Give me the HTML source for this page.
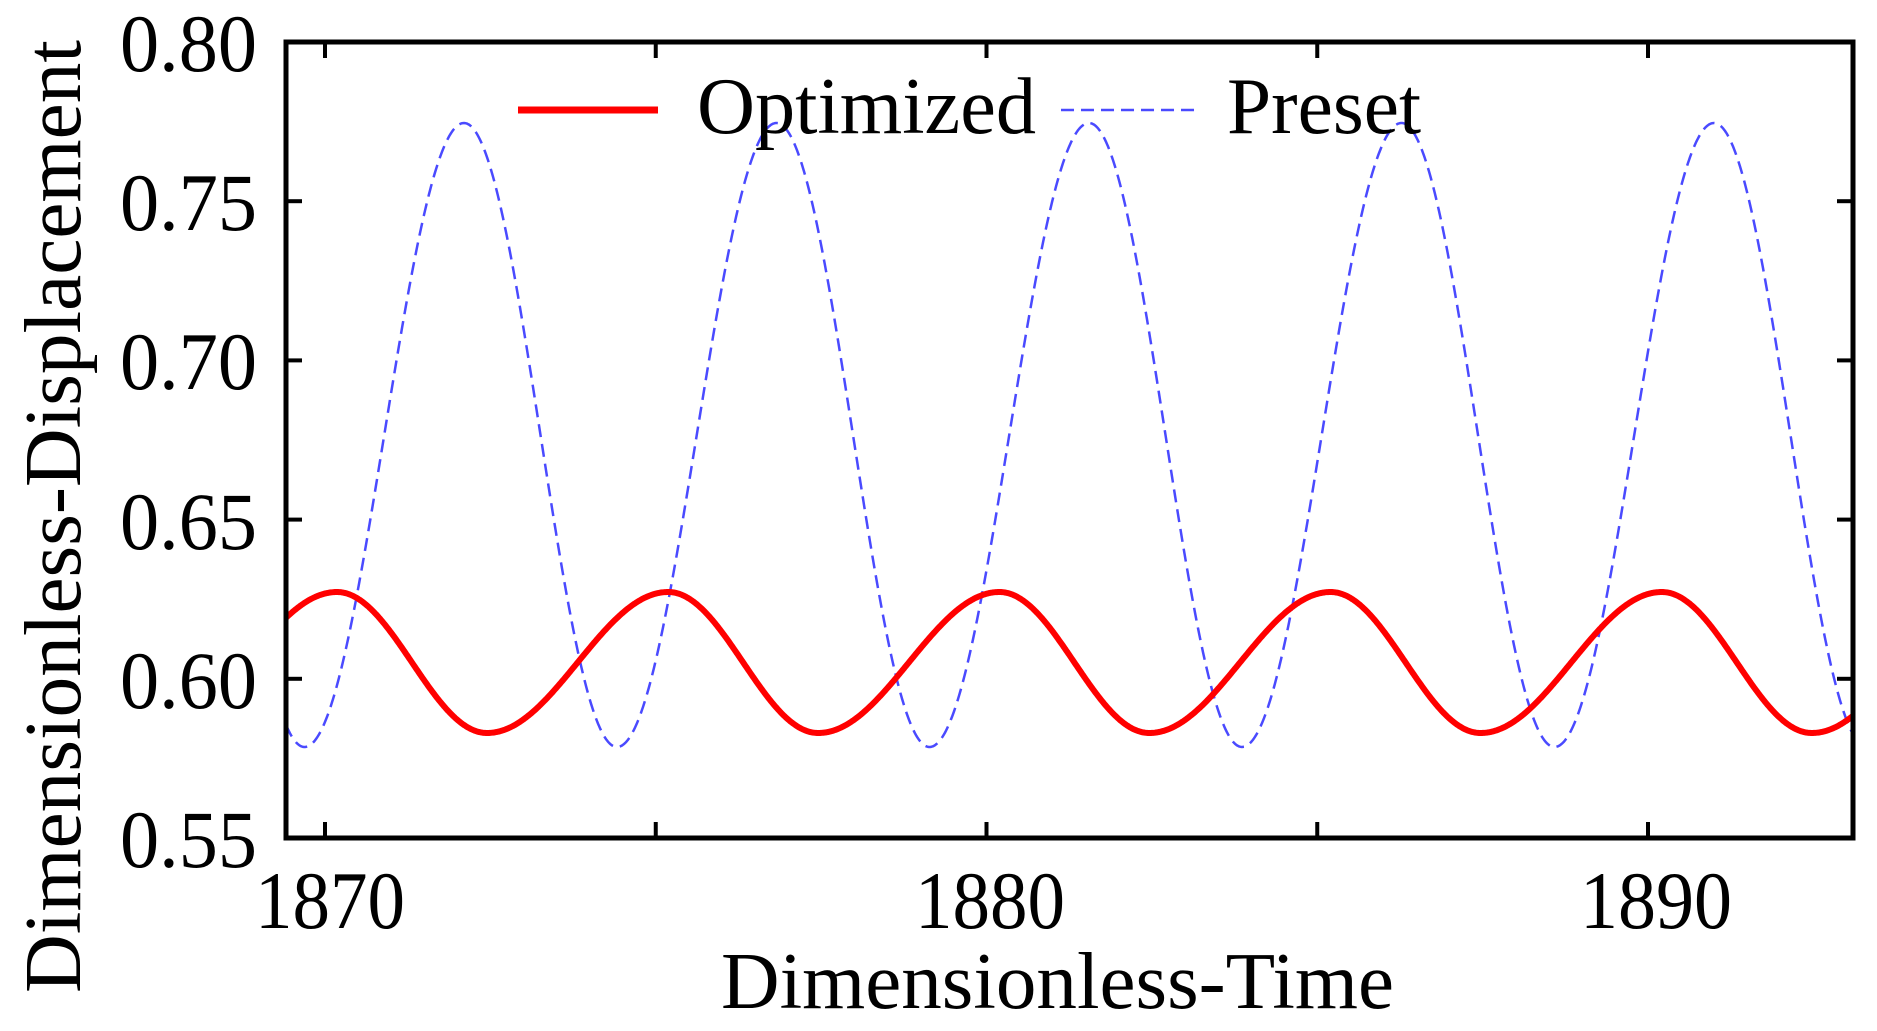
<!DOCTYPE html>
<html><head><meta charset="utf-8"><style>
html,body{margin:0;padding:0;background:#fff;}
svg{display:block;}
text{font-family:"Liberation Serif",serif;fill:#000;}
</style></head><body>
<svg id="s" width="1877" height="1031" viewBox="0 0 1877 1031" xmlns="http://www.w3.org/2000/svg">
<rect width="1877" height="1031" fill="#fff"/>
<g id="ticks" stroke="#000" stroke-width="4"></g>
<path id="blue" fill="none" stroke="#4a4aff" stroke-width="2.5" stroke-dasharray="13,7"/>
<path id="red" fill="none" stroke="#ff0000" stroke-width="6" stroke-linejoin="round"/>
<rect x="286" y="42" width="1567" height="796" fill="none" stroke="#000" stroke-width="5"/>
<g font-size="82" text-anchor="end">
<text x="257" y="71" textLength="137" lengthAdjust="spacingAndGlyphs">0.80</text>
<text x="257" y="230" textLength="137" lengthAdjust="spacingAndGlyphs">0.75</text>
<text x="257" y="389" textLength="137" lengthAdjust="spacingAndGlyphs">0.70</text>
<text x="257" y="549" textLength="137" lengthAdjust="spacingAndGlyphs">0.65</text>
<text x="257" y="708" textLength="137" lengthAdjust="spacingAndGlyphs">0.60</text>
<text x="257" y="867" textLength="137" lengthAdjust="spacingAndGlyphs">0.55</text>
</g>
<g font-size="82" text-anchor="middle">
<text x="330" y="928" textLength="150" lengthAdjust="spacingAndGlyphs">1870</text>
<text x="990" y="928" textLength="150" lengthAdjust="spacingAndGlyphs">1880</text>
<text x="1656" y="928" textLength="152" lengthAdjust="spacingAndGlyphs">1890</text>
</g>
<text x="721" y="1008" font-size="80" textLength="673" lengthAdjust="spacingAndGlyphs">Dimensionless-Time</text>
<text transform="translate(80,993) rotate(-90)" font-size="80" textLength="953" lengthAdjust="spacingAndGlyphs">Dimensionless-Displacement</text>
<line x1="518" y1="110" x2="658" y2="110" stroke="#ff0000" stroke-width="7"/>
<text x="697" y="133" font-size="80" textLength="339" lengthAdjust="spacingAndGlyphs">Optimized</text>
<line x1="1061" y1="110" x2="1194" y2="110" stroke="#4a4aff" stroke-width="2.5" stroke-dasharray="13,7"/>
<text x="1227" y="133" font-size="80" textLength="194" lengthAdjust="spacingAndGlyphs">Preset</text>
</svg>
<script>
(function(){
  var g=document.getElementById('ticks'),s='';
  for(var i=0;i<6;i++){var y=42+i*159.2;
    s+='<line x1="286" y1="'+y+'" x2="302" y2="'+y+'"/><line x1="1837" y1="'+y+'" x2="1853" y2="'+y+'"/>';}
  for(var t=1870;t<=1890;t+=5){var x=325+(t-1870)*66.15;
    s+='<line x1="'+x+'" y1="42" x2="'+x+'" y2="58"/><line x1="'+x+'" y1="822" x2="'+x+'" y2="838"/>';}
  g.innerHTML=s;
  function wave(peak0,period,fall,ytop,ybot){
    var d='',first=true;
    for(var x=286;x<=1853;x+=1){
      var p=((x-peak0)%period+period)%period,ph;
      if(p<fall){ph=Math.PI*p/fall;}else{ph=Math.PI+Math.PI*(p-fall)/(period-fall);}
      var c=(1+Math.cos(ph))/2;
      var y=ybot+(ytop-ybot)*c;
      d+=(first?'M':'L')+x+' '+y.toFixed(1)+' ';first=false;
    }
    return d;
  }
  document.getElementById('red').setAttribute('d',wave(337,331.2,150,592,733));
  document.getElementById('blue').setAttribute('d',wave(464,312.5,153,123,747));
})();
</script>
</body></html>
